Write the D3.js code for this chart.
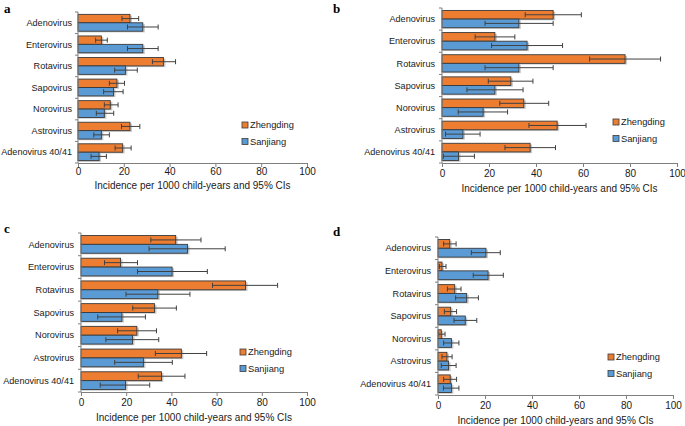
<!DOCTYPE html>
<html>
<head>
<meta charset="utf-8">
<script src="https://cdn.jsdelivr.net/npm/d3@7"></script>
<style>
  body { margin: 0; background: #fff; }
  svg { font-family: "Liberation Sans", Arial, sans-serif; }
</style>
</head>
<body>
<svg id="chart" width="685" height="426"></svg>
<script>
var categories = ['Adenovirus', 'Enterovirus', 'Rotavirus', 'Sapovirus', 'Norovirus', 'Astrovirus', 'Adenovirus 40/41'];
var seriesNames = ['Zhengding', 'Sanjiang'];
var ticks = [0, 20, 40, 60, 80, 100];
var axisTitle = 'Incidence per 1000 child-years and 95% CIs';

// [value, lower CI, upper CI] per category
var aZhengding = [[22.7, 19.2, 26.5], [10.2, 7.7, 12.8], [37.3, 32.5, 42.6], [17, 13.7, 20.3], [14.1, 11.5, 17.5], [22.7, 19, 27], [19.5, 16.2, 23.2]];
var aSanjiang = [[28.3, 21.6, 35], [28.3, 21.6, 35], [20.7, 16, 25.9], [15.5, 11.2, 19.7], [11.5, 8, 15.6], [10.2, 6.9, 13.7], [9.2, 5.7, 12.4]];
var bZhengding = [[47.3, 35.4, 59.3], [22.5, 14.1, 31], [77.9, 62.8, 93], [29.3, 19.7, 38.7], [34.8, 24.6, 45.4], [49, 37, 61.3], [37.5, 26.8, 48.3]];
var bSanjiang = [[32.7, 18.3, 47.3], [36.2, 21.1, 51.3], [32.7, 18.3, 47.3], [22.5, 10.6, 34.5], [17.5, 6.9, 27.9], [8.9, 1.5, 16.2], [7, 0.6, 13.8]];
var cZhengding = [[41.9, 30.9, 53.1], [17.5, 10.4, 25], [72.8, 58.2, 87], [32.5, 22.9, 42.2], [24.7, 16.2, 33.4], [44.4, 32.9, 55.6], [35.6, 25.3, 46]];
var cSanjiang = [[47.1, 30.1, 63.8], [40.3, 25, 55.9], [34, 19.9, 48.2], [18.1, 7.4, 28.5], [22.8, 11, 34.4], [27.6, 14.9, 40.4], [19.7, 8.5, 30.4]];
var dZhengding = [[5, 2.4, 7.7], [1.7, 0.6, 3.4], [7.1, 4, 9.8], [5.4, 2.7, 7.9], [1.4, 0.3, 3], [3.8, 1.7, 6], [5.2, 2.4, 7.9]];
var dSanjiang = [[20.4, 14.2, 26.5], [21.3, 15, 27.8], [12.2, 7.5, 17.2], [11.6, 6.8, 16.5], [5.7, 2.4, 8.9], [4.5, 1.4, 7.7], [5.7, 2.3, 8.9]];

var colors = { Zhengding: '#ed7d31', Sanjiang: '#5b9bd5' };

var panels = [
  { letter: 'a', lx: 4, ly: 13, x0: 78, x1: 307, y0: 12, y1: 163, labGap: 6, tickOff: 8, titleOff: 22, legX: 245, legY: 125, data: [aZhengding, aSanjiang] },
  { letter: 'b', lx: 333, ly: 13, x0: 442, x1: 677, y0: 8, y1: 163, labGap: 7, tickOff: 10, titleOff: 25, legX: 616, legY: 122, data: [bZhengding, bSanjiang] },
  { letter: 'c', lx: 4, ly: 233, x0: 81, x1: 307, y0: 233, y1: 392, labGap: 7, tickOff: 10, titleOff: 25, legX: 243, legY: 352, data: [cZhengding, cSanjiang] },
  { letter: 'd', lx: 333, ly: 236, x0: 438, x1: 673, y0: 237, y1: 395, labGap: 7, tickOff: 10, titleOff: 25, legX: 611, legY: 357, data: [dZhengding, dSanjiang] }
];

var svg = d3.select('#chart');

function drawPanel(p) {
  var g = svg.append('g');

  g.append('text')
    .attr('x', p.lx).attr('y', p.ly)
    .attr('font-family', '"Liberation Serif", "Times New Roman", serif')
    .attr('font-weight', 'bold').attr('font-size', 13)
    .text(p.letter);

  var x = d3.scaleLinear().domain([0, 100]).range([p.x0, p.x1]);
  var y = d3.scaleBand().domain(categories).range([p.y0, p.y1]).paddingInner(0.22).paddingOuter(0.11);
  var ys = d3.scaleBand().domain(seriesNames).range([0, y.bandwidth()]);

  var rows = [];
  categories.forEach(function (c, i) {
    seriesNames.forEach(function (s, j) {
      var v = p.data[j][i];
      rows.push({ cat: c, series: s, value: v[0], lo: v[1], hi: v[2] });
    });
  });

  // soft shadow behind bars
  g.selectAll('.shadow').data(rows).enter().append('rect')
    .attr('x', x(0) + 1)
    .attr('y', function (d) { return y(d.cat) + ys(d.series) + 1.2; })
    .attr('width', function (d) { return x(d.value) - x(0) + 1; })
    .attr('height', ys.bandwidth())
    .attr('fill', '#c8c8c8');

  g.selectAll('.bar').data(rows).enter().append('rect')
    .attr('x', x(0))
    .attr('y', function (d) { return y(d.cat) + ys(d.series); })
    .attr('width', function (d) { return x(d.value) - x(0); })
    .attr('height', ys.bandwidth())
    .attr('fill', function (d) { return colors[d.series]; })
    .attr('stroke', '#3a3a3a').attr('stroke-width', 0.9);

  var err = g.selectAll('.err').data(rows).enter().append('g')
    .attr('stroke', '#404040').attr('stroke-width', 1);
  function cy(d) { return y(d.cat) + ys(d.series) + ys.bandwidth() / 2; }
  err.append('line')
    .attr('x1', function (d) { return x(d.lo); }).attr('x2', function (d) { return x(d.hi); })
    .attr('y1', cy).attr('y2', cy);
  err.append('line')
    .attr('x1', function (d) { return x(d.lo); }).attr('x2', function (d) { return x(d.lo); })
    .attr('y1', function (d) { return cy(d) - 2.5; }).attr('y2', function (d) { return cy(d) + 2.5; });
  err.append('line')
    .attr('x1', function (d) { return x(d.hi); }).attr('x2', function (d) { return x(d.hi); })
    .attr('y1', function (d) { return cy(d) - 2.5; }).attr('y2', function (d) { return cy(d) + 2.5; });

  // left axis with group ticks
  var boundaries = d3.range(categories.length + 1).map(function (i) {
    return p.y0 + i * (p.y1 - p.y0) / categories.length;
  });
  g.append('line').attr('x1', p.x0).attr('x2', p.x0).attr('y1', p.y0).attr('y2', p.y1)
    .attr('stroke', '#7f7f7f');
  g.selectAll('.ytick').data(boundaries).enter().append('line')
    .attr('x1', p.x0 - 3).attr('x2', p.x0)
    .attr('y1', function (d) { return d; }).attr('y2', function (d) { return d; })
    .attr('stroke', '#7f7f7f');
  g.selectAll('.ylab').data(categories).enter().append('text')
    .attr('x', p.x0 - p.labGap)
    .attr('y', function (d) { return y(d) + y.bandwidth() / 2; })
    .attr('dy', '0.35em').attr('text-anchor', 'end')
    .attr('font-size', 9.1).attr('fill', '#1a1a1a')
    .text(function (d) { return d; });

  // bottom axis
  var xAxis = d3.axisBottom(x).tickValues(ticks).tickSize(4).tickSizeOuter(0);
  var ax = g.append('g').attr('transform', 'translate(0,' + p.y1 + ')').call(xAxis);
  ax.select('.domain').attr('stroke', '#7f7f7f');
  ax.selectAll('.tick line').attr('stroke', '#7f7f7f');
  ax.selectAll('.tick text').attr('font-size', 10).attr('fill', '#1a1a1a')
    .attr('font-family', '"Liberation Sans", Arial, sans-serif')
    .attr('y', p.tickOff).attr('dy', '0.35em');

  g.append('text')
    .attr('x', (p.x0 + p.x1) / 2).attr('y', p.y1 + p.titleOff)
    .attr('dy', '0.35em')
    .attr('text-anchor', 'middle').attr('font-size', 10).attr('fill', '#1a1a1a')
    .text(axisTitle);

  // legend
  var leg = g.selectAll('.leg').data(seriesNames).enter().append('g')
    .attr('transform', function (d, i) { return 'translate(' + p.legX + ',' + (p.legY + i * 16.5) + ')'; });
  leg.append('rect').attr('x', -3).attr('y', -3).attr('width', 6).attr('height', 6)
    .attr('fill', function (d) { return colors[d]; })
    .attr('stroke', '#3a3a3a').attr('stroke-width', 0.8);
  leg.append('text').attr('x', 5).attr('dy', '0.35em')
    .attr('font-size', 9.3).attr('fill', '#1a1a1a')
    .text(function (d) { return d; });
}

panels.forEach(drawPanel);
</script>
</body>
</html>
